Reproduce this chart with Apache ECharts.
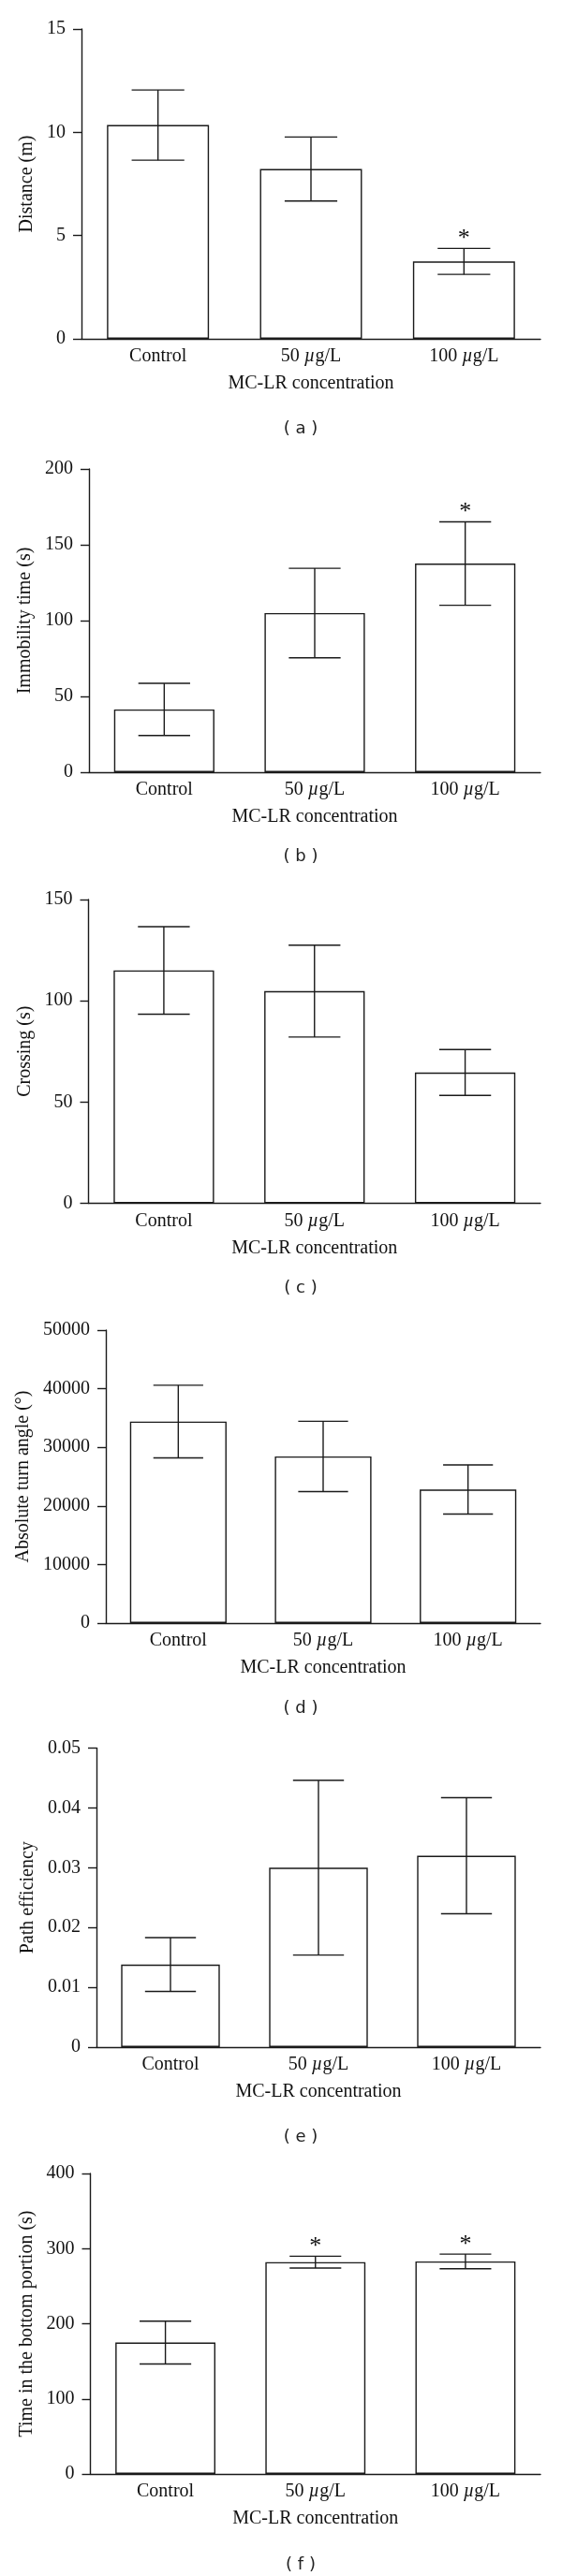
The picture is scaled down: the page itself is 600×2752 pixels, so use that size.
<!DOCTYPE html>
<html>
<head>
<meta charset="utf-8">
<script src="https://cdn.jsdelivr.net/npm/echarts@6.0.0/dist/echarts.min.js"></script>
<style>
  html, body { margin: 0; padding: 0; background: #fff; }
  #chart { width: 600px; height: 2752px; }
</style>
</head>
<body>
<div id="chart"></div>
<script>
// ---------- data ----------
const categories = ['Control', '50 µg/L', '100 µg/L'];

const distanceMean = [10.35, 8.22, 3.75];
const distanceErr  = [1.70, 1.55, 0.63];
const distanceSig  = [0, 0, 1];

const immobilityMean = [41.4, 105.0, 137.6];
const immobilityErr  = [17.2, 29.5, 27.5];
const immobilitySig  = [0, 0, 1];

const crossingMean = [115.0, 104.8, 64.6];
const crossingErr  = [21.6, 22.7, 11.3];
const crossingSig  = [0, 0, 0];

const turnAngleMean = [34400, 28450, 22800];
const turnAngleErr  = [6200, 6000, 4200];
const turnAngleSig  = [0, 0, 0];

const pathEffMean = [0.0138, 0.0300, 0.0320];
const pathEffErr  = [0.0045, 0.0146, 0.0097];
const pathEffSig  = [0, 0, 0];

const bottomTimeMean = [175, 282, 283];
const bottomTimeErr  = [28.5, 7.9, 9.7];
const bottomTimeSig  = [0, 1, 1];

const yNames = ['Distance (m)', 'Immobility time (s)', 'Crossing (s)',
                'Absolute turn angle (°)', 'Path efficiency', 'Time in the bottom portion (s)'];
const yMax = [15, 200, 150, 50000, 0.05, 400];
const yInterval = [5, 50, 50, 10000, 0.01, 100];
const panelLabels = ['( a )', '( b )', '( c )', '( d )', '( e )', '( f )'];

const means = [distanceMean, immobilityMean, crossingMean, turnAngleMean, pathEffMean, bottomTimeMean];
const errs  = [distanceErr, immobilityErr, crossingErr, turnAngleErr, pathEffErr, bottomTimeErr];
const sigs  = [distanceSig, immobilitySig, crossingSig, turnAngleSig, pathEffSig, bottomTimeSig];

// ---------- layout ----------
const layout = [
  { left: 87,   top: 31,     bottom: 362,   label: 458 },
  { left: 95,   top: 501,    bottom: 825,   label: 915 },
  { left: 94.5, top: 961,    bottom: 1285.5,label: 1376 },
  { left: 113,  top: 1421,   bottom: 1734,  label: 1825 },
  { left: 103,  top: 1867.5, bottom: 2187,  label: 2283 },
  { left: 96.5, top: 2322,   bottom: 2643,  label: 2740 }
];
const RIGHT = 577;
const INK = '#1a1a1a';
const SERIF = '"Liberation Serif", "DejaVu Serif", serif';

const grids = [], xAxes = [], yAxes = [], series = [], graphics = [];

layout.forEach((L, i) => {
  grids.push({
    left: L.left, top: L.top, width: RIGHT - L.left, height: L.bottom - L.top,
    containLabel: false, outerBoundsMode: 'none'
  });
  xAxes.push({
    type: 'category', gridIndex: i, data: categories,
    name: 'MC-LR concentration', nameLocation: 'middle', nameGap: 38,
    nameTextStyle: { fontFamily: SERIF, fontSize: 20, color: '#111' },
    axisLine: { lineStyle: { color: INK, width: 1.4 } },
    axisTick: { show: false },
    axisLabel: {
      margin: 9, fontFamily: SERIF, fontSize: 20, color: '#111',
      formatter: v => v.indexOf('µ') >= 0 ? v.replace('µ', '{i|µ}') : v,
      rich: { i: { fontFamily: SERIF, fontSize: 20, fontStyle: 'italic', color: '#111' } }
    },
    splitLine: { show: false }
  });
  yAxes.push({
    type: 'value', gridIndex: i, min: 0, max: yMax[i], interval: yInterval[i],
    name: yNames[i], nameLocation: 'middle', nameRotate: 90, nameGap: L.left - 41,
    nameTextStyle: { fontFamily: SERIF, fontSize: 20, color: '#111' },
    axisLine: { show: true, lineStyle: { color: INK, width: 1.4 } },
    axisTick: { show: true, length: 9, lineStyle: { color: INK, width: 1.4 } },
    axisLabel: {
      margin: 17, fontFamily: SERIF, fontSize: 20, color: '#111',
      formatter: v => {
        if (v === 0) return '0';
        if (yInterval[i] < 1) return v.toFixed(2);
        return String(Math.round(v));
      }
    },
    splitLine: { show: false }
  });
  series.push({
    type: 'bar', xAxisIndex: i, yAxisIndex: i, data: means[i],
    barWidth: '66.7%',
    itemStyle: { color: '#fff', borderColor: INK, borderWidth: 1.4 },
    silent: true, z: 2
  });
  series.push({
    type: 'custom', xAxisIndex: i, yAxisIndex: i, z: 3, silent: true,
    data: categories.map((c, k) => [k, means[i][k], errs[i][k], sigs[i][k]]),
    renderItem: (params, api) => {
      const k = api.value(0), m = api.value(1), e = api.value(2), s = api.value(3);
      const hi = api.coord([k, m + e]);
      const lo = api.coord([k, m - e]);
      const half = api.size([1, 0])[0] * 0.172;
      const st = { stroke: INK, lineWidth: 1.4 };
      const children = [
        { type: 'line', shape: { x1: hi[0], y1: hi[1], x2: lo[0], y2: lo[1] }, style: st },
        { type: 'line', shape: { x1: hi[0] - half, y1: hi[1], x2: hi[0] + half, y2: hi[1] }, style: st },
        { type: 'line', shape: { x1: lo[0] - half, y1: lo[1], x2: lo[0] + half, y2: lo[1] }, style: st }
      ];
      if (s) {
        children.push({
          type: 'text',
          style: {
            text: '*', x: hi[0], y: hi[1] - 10, align: 'center', verticalAlign: 'middle',
            fontFamily: SERIF, fontSize: 26, fill: '#111'
          }
        });
      }
      return { type: 'group', children };
    }
  });
  graphics.push({
    type: 'text', x: 321, y: L.label, silent: true,
    style: {
      text: panelLabels[i], align: 'center', verticalAlign: 'middle',
      fontFamily: '"DejaVu Sans", Verdana, sans-serif', fontSize: 18, fill: '#222'
    }
  });
});

const chart = echarts.init(document.getElementById('chart'), null, { renderer: 'canvas' });
chart.setOption({
  animation: false,
  backgroundColor: '#fff',
  grid: grids,
  xAxis: xAxes,
  yAxis: yAxes,
  series: series,
  graphic: graphics
});
</script>
</body>
</html>
